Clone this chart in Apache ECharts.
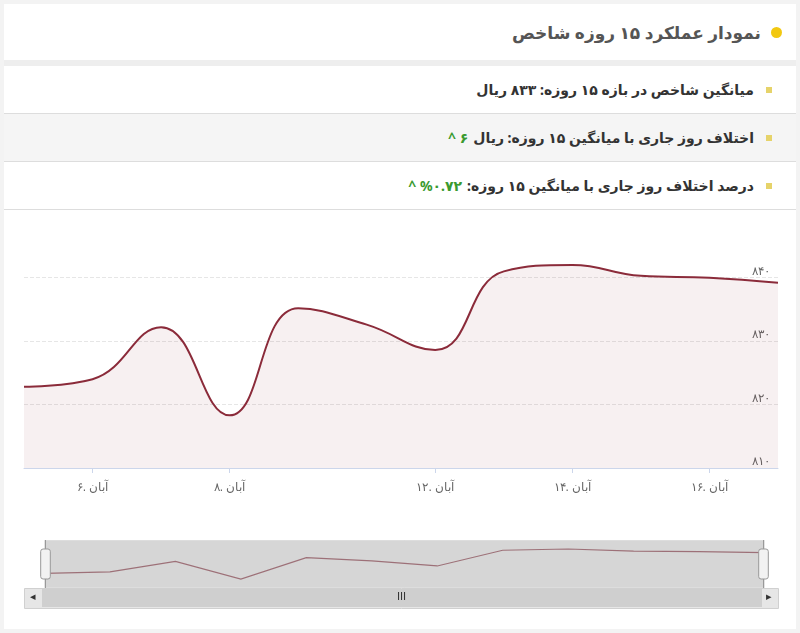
<!DOCTYPE html>
<html>
<head>
<meta charset="utf-8">
<script src="https://cdn.jsdelivr.net/npm/echarts@6/dist/echarts.min.js"></script>
<style>
body { margin: 0; background: #f3f3f3; font-family: "Noto Sans", "DejaVu Sans", sans-serif; }
.card { position: absolute; left: 4px; top: 4px; width: 792px; height: 625px; background: #fff; }
.head { height: 56px; direction: rtl; display: flex; align-items: center; padding-right: 14px; font-size: 17px; color: #555; font-weight: bold; border-bottom: 6px solid #eee; }
.dot { width: 11px; height: 11px; border-radius: 50%; background: #f2c811; margin-left: 10px; }
.row { height: 47px; direction: rtl; display: flex; align-items: center; padding-right: 24px; font-size: 14px; font-weight: bold; color: #333; border-bottom: 1px solid #ddd; }
.row.alt { background: #f5f5f5; }
.sq { width: 6px; height: 6px; background: #e6d36a; margin-left: 12px; }
.up { color: #3a9a2f; margin-right: 5px; }
#chart { position: absolute; left: 0; top: 206px; width: 792px; height: 419px; }
</style>
</head>
<body>
<div class="card">
  <div class="head"><span class="dot"></span>نمودار عملکرد ۱۵ روزه شاخص</div>
  <div class="row"><span class="sq"></span>میانگین شاخص در بازه ۱۵ روزه: ۸۳۳ ریال</div>
  <div class="row alt"><span class="sq"></span>اختلاف روز جاری با میانگین ۱۵ روزه: ریال <span class="up">۶ ^</span></div>
  <div class="row"><span class="sq"></span>درصد اختلاف روز جاری با میانگین ۱۵ روزه: <span class="up">%۰.۷۲ ^</span></div>
  <div id="chart"></div>
</div>
<script>
const days = ['۵. آبان', '۶. آبان', '۷. آبان', '۸. آبان', '۹. آبان', '۱۱. آبان', '۱۲. آبان', '۱۳. آبان', '۱۴. آبان', '۱۵. آبان', '۱۶. آبان', '۱۷. آبان']
const shownDays = [1, 3, 6, 8, 10]
const values = [822.8, 824, 832.2, 818.3, 835.2, 832.6, 828.6, 841, 842, 840.3, 840, 839.2]

function faDigits(v) {
    return String(v).replace(/\d/g, d => '۰۱۲۳۴۵۶۷۸۹'[d])
}

let myChart = echarts.init(document.getElementById('chart'))
myChart.setOption({
    animation: false,
    grid: {left: 20, right: 18, top: 36, bottom: 161},
    xAxis: {
        type: 'category',
        data: days,
        boundaryGap: false,
        axisLine: {lineStyle: {color: '#ccd6eb'}},
        axisTick: {
            alignWithLabel: true,
            interval: (i) => shownDays.includes(i),
            lineStyle: {color: '#ccd6eb'}
        },
        axisLabel: {
            interval: (i) => shownDays.includes(i),
            color: '#666', fontSize: 12, margin: 14
        }
    },
    yAxis: {
        type: 'value',
        position: 'right',
        min: 810, max: 845, interval: 10,
        axisLabel: {
            inside: true, color: '#666', fontSize: 12,
            verticalAlign: 'bottom',
            formatter: (v) => v > 840 ? '' : faDigits(v)
        },
        splitLine: {showMaxLine: false, lineStyle: {color: '#e6e6e6', type: 'dashed'}}
    },
    graphic: [
        {type: 'rect', left: 20, top: 378, shape: {width: 754, height: 20}, style: {fill: '#e6e6e6', stroke: '#d0d0d0'}},
        {type: 'rect', left: 38, top: 379, shape: {width: 720, height: 18}, style: {fill: '#cfcfcf'}},
        {type: 'text', left: 393, top: 381, style: {text: 'III', fill: '#333', fontSize: 11}},
        {type: 'text', left: 26, top: 381, style: {text: '◂', fill: '#333', fontSize: 11}},
        {type: 'text', left: 762, top: 381, style: {text: '▸', fill: '#333', fontSize: 11}}
    ],
    dataZoom: [{
        type: 'slider',
        start: 0, end: 100,
        left: 38, right: 34, top: 330, height: 48,
        backgroundColor: '#f2f2f2',
        fillerColor: 'rgba(180,180,180,0.45)',
        borderColor: '#ddd',
        handleStyle: {color: '#f2f2f2', borderColor: '#999'},
        labelFormatter: () => '',
        brushSelect: false,
        moveHandleSize: 0,
        dataBackground: {
            lineStyle: {color: '#8b3a47', width: 1.2, opacity: 1},
            areaStyle: {opacity: 0}
        },
        selectedDataBackground: {
            lineStyle: {color: '#8b3a47', width: 1.2},
            areaStyle: {opacity: 0}
        }
    }],
    series: [{
        type: 'line',
        data: values,
        smooth: 0.45,
        showSymbol: false,
        lineStyle: {color: '#8b2b3a', width: 2},
        areaStyle: {color: 'rgba(139,43,58,0.1)', origin: 'start'}
    }]
})
</script>
</body>
</html>
